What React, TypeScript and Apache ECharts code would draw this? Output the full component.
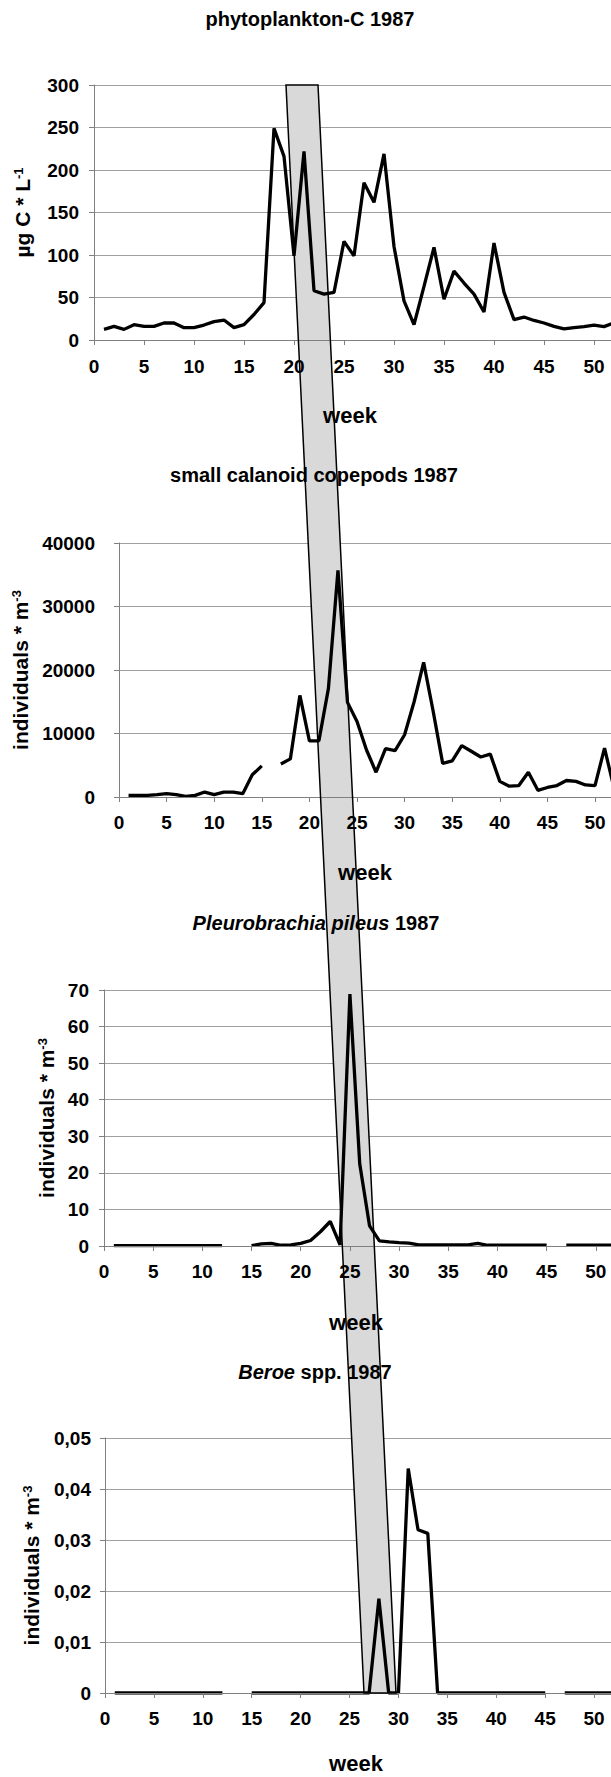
import React, { useEffect, useRef } from "react";
import * as echarts from "echarts";

const FONT = '"Liberation Sans", Arial, Helvetica, sans-serif';

// weeks of 1987
const weeks = [
  1, 2, 3, 4, 5, 6, 7, 8, 9, 10, 11, 12, 13, 14, 15, 16, 17, 18, 19, 20, 21, 22, 23, 24, 25, 26,
  27, 28, 29, 30, 31, 32, 33, 34, 35, 36, 37, 38, 39, 40, 41, 42, 43, 44, 45, 46, 47, 48, 49, 50, 51, 52,
];

// phytoplankton-C (µg C / L)
const phytoC = [
  12.5, 16, 12.5, 18, 16, 16, 20, 20, 14.5, 14.5, 17.6, 21.6, 23.5, 14.5, 18, 30, 44, 249, 216, 99, 222, 58, 54, 56, 116, 99,
  185, 162, 219, 110, 46, 18, 63, 109, 48, 81, 67, 54, 33, 114, 56, 24, 27, 23, 20, 16, 13, 14.5, 15.7, 17.6, 15.7, 20,
];

// small calanoid copepods (individuals / m3); null = no sample
const copepods = [
  260, 260, 260, 370, 520, 370, 100, 260, 780, 370, 780, 780, 520, 3500, 4900, null, 5200, 6000, 16000, 8850, 8850, 17100, 35700, 14900, 11900, 7400,
  3900, 7600, 7300, 9800, 15000, 21200, 13500, 5300, 5700, 8100, 7200, 6300, 6750, 2460, 1700, 1800, 3900, 1050, 1500, 1800, 2600, 2460, 1900, 1800, 7700, 1400,
];

// Pleurobrachia pileus (individuals / m3)
const pleurobrachia = [
  0.1, 0.1, 0.1, 0.1, 0.1, 0.1, 0.1, 0.1, 0.1, 0.1, 0.1, 0.1, null, null, 0.1, 0.6, 0.7, 0.2, 0.3, 0.7, 1.5, 3.9, 6.7, 0.3, 68.9, 22.4,
  5.5, 1.4, 1.1, 0.9, 0.8, 0.3, 0.3, 0.3, 0.3, 0.3, 0.3, 0.7, 0.2, 0.2, 0.2, 0.2, 0.2, 0.2, 0.2, null, 0.2, 0.2, 0.2, 0.2, 0.2, 0.2,
];

// Beroe spp. (individuals / m3)
const beroe = [
  0, 0, 0, 0, 0, 0, 0, 0, 0, 0, 0, 0, null, null, 0, 0, 0, 0, 0, 0, 0, 0, 0, 0, 0, 0,
  0, 0.0185, 0, 0, 0.044, 0.032, 0.0313, 0, 0, 0, 0, 0, 0, 0, 0, 0, 0, 0, 0, null, 0, 0, 0, 0, 0, 0,
];

const titles = ["phytoplankton-C 1987", "small calanoid copepods 1987", "{i|Pleurobrachia pileus} 1987", "{i|Beroe} spp. 1987"];
const yNames = ["{a|µg C * L}{s|-1}", "{a|individuals * m}{s|-3}", "{a|individuals * m}{s|-3}", "{a|individuals * m}{s|-3}"];
const yMax = [300, 40000, 70, 0.05];
const yStep = [50, 10000, 10, 0.01];
const xLastLabel = 50;
const xAxisName = "week";

// layout (pixels)
const layout = [
  { left: 94, top: 85, width: 550, height: 255, nameGap: 61, yMargin: 15, xMargin: 17, title: [310, 19], week: [350, 415] },
  { left: 119, top: 543, width: 523.6, height: 254, nameGap: 82, yMargin: 24, xMargin: 16, title: [314, 475], week: [365, 872] },
  { left: 104, top: 990, width: 541, height: 256, nameGap: 47, yMargin: 15, xMargin: 16, title: [316, 923], week: [356, 1322] },
  { left: 105, top: 1438, width: 538, height: 255, nameGap: 63, yMargin: 14, xMargin: 16, title: [315, 1372], week: [356, 1763] },
];

const seriesValues = [phytoC, copepods, pleurobrachia, beroe];

function pairs(vals: (number | null)[]) {
  return weeks.map((w, i) => [w, vals[i] == null ? "-" : vals[i]]);
}

export default function App() {
  const ref = useRef<HTMLDivElement>(null);

  useEffect(() => {
    if (!ref.current) return;
    const chart = echarts.init(ref.current, undefined, { renderer: "svg" });

    const grids = layout.map((l) => ({
      left: l.left,
      top: l.top,
      width: l.width,
      height: l.height,
      containLabel: false,
      outerBoundsMode: "none",
    }));

    const xAxes = layout.map((l, i) => ({
      type: "value",
      gridIndex: i,
      min: 0,
      max: 55,
      interval: 5,
      z: 3,
      axisLine: { show: true, lineStyle: { color: "#808080", width: 1 } },
      axisTick: { show: true, length: 5, lineStyle: { color: "#808080" } },
      splitLine: { show: false },
      axisLabel: {
        color: "#000",
        fontSize: 19,
        fontWeight: "bold",
        fontFamily: FONT,
        margin: l.xMargin,
        formatter: (v: number) => (v > xLastLabel ? "" : String(v)),
      },
    }));

    const yAxes = layout.map((l, i) => ({
      type: "value",
      gridIndex: i,
      min: 0,
      max: yMax[i],
      interval: yStep[i],
      name: yNames[i],
      nameLocation: "middle",
      nameRotate: 90,
      nameGap: l.nameGap,
      nameTextStyle: {
        color: "#000",
        fontSize: 21,
        fontWeight: "bold",
        fontFamily: FONT,
        rich: {
          a: { fontSize: 21, fontWeight: "bold", fontFamily: FONT, color: "#000" },
          s: { fontSize: 13, fontWeight: "bold", fontFamily: FONT, color: "#000", verticalAlign: "top" },
        },
      },
      axisLine: { show: true, lineStyle: { color: "#808080", width: 1 } },
      axisTick: { show: true, length: 5, lineStyle: { color: "#808080" } },
      splitLine: { show: true, lineStyle: { color: "#a0a0a0", width: 1 } },
      axisLabel: {
        color: "#000",
        fontSize: 19,
        fontWeight: "bold",
        fontFamily: FONT,
        margin: l.yMargin,
        formatter:
          i === 3 ? (v: number) => (v === 0 ? "0" : v.toFixed(2).replace(".", ",")) : (v: number) => String(v),
      },
    }));

    const series = seriesValues.map((vals, i) => ({
      type: "line",
      xAxisIndex: i,
      yAxisIndex: i,
      data: pairs(vals),
      showSymbol: false,
      symbol: "none",
      connectNulls: false,
      z: 2,
      lineStyle: { color: "#000", width: 3.3 },
    }));

    const band = [
      [286, 85],
      [318, 85],
      [396, 1693],
      [364, 1693],
    ];

    const texts: any[] = [];
    layout.forEach((l, i) => {
      texts.push({
        type: "text",
        x: l.title[0],
        y: l.title[1],
        z: 6,
        style: {
          text: titles[i],
          fill: "#000",
          fontSize: 20,
          fontWeight: "bold",
          fontFamily: FONT,
          align: "center",
          verticalAlign: "middle",
          rich: { i: { fontSize: 20, fontWeight: "bold", fontStyle: "italic", fontFamily: FONT, fill: "#000" } },
        },
      });
      texts.push({
        type: "text",
        x: l.week[0],
        y: l.week[1],
        z: 6,
        style: {
          text: xAxisName,
          fill: "#000",
          fontSize: 22,
          fontWeight: "bold",
          fontFamily: FONT,
          align: "center",
          verticalAlign: "middle",
        },
      });
    });

    chart.setOption({
      animation: false,
      backgroundColor: "#fff",
      grid: grids,
      xAxis: xAxes,
      yAxis: yAxes,
      series,
      graphic: [
        { type: "polygon", z: 1, shape: { points: band }, style: { fill: "#d9d9d9", stroke: "none" } },
        ...texts,
        { type: "polygon", z: 7, shape: { points: band }, style: { fill: "none", stroke: "#000", lineWidth: 1.5 } },
      ],
    });

    return () => chart.dispose();
  }, []);

  return (
    <div style={{ position: "absolute", left: 0, top: 0, width: 611, height: 1777, overflow: "hidden", background: "#fff" }}>
      <div ref={ref} style={{ width: 700, height: 1777 }} />
    </div>
  );
}
